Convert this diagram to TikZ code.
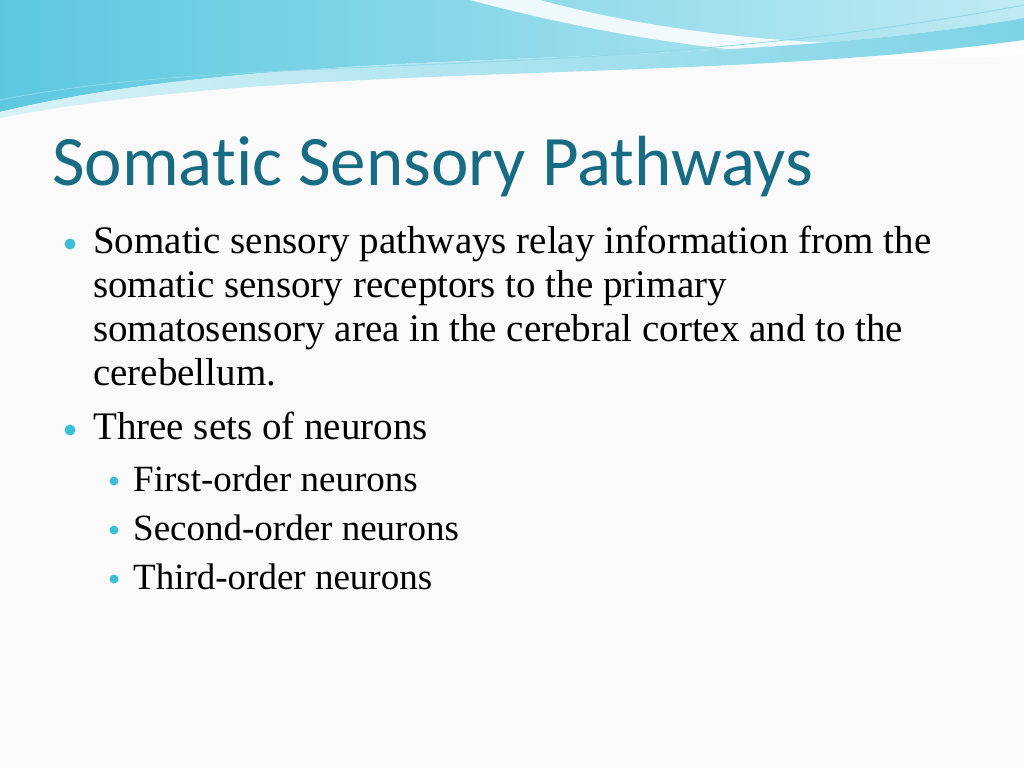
\documentclass[tikz,border=0pt]{standalone}
\usepackage{fontspec}
\setmainfont{Liberation Serif}
\newfontfamily\titlefont[Ligatures={NoCommon}]{Carlito}
\definecolor{ttl}{HTML}{176B82}
\definecolor{bul}{HTML}{3CBFD6}
\definecolor{wave1}{HTML}{5CC8E0}
\definecolor{wave2}{HTML}{BFEAF3}
\begin{document}
\begin{tikzpicture}[x=1pt,y=-1pt,
  body/.style={anchor=north west,align=left,font=\fontsize{39}{44}\selectfont,inner sep=0pt},
  sub/.style={anchor=north west,font=\fontsize{37}{40}\selectfont,inner sep=0pt},
  dot/.style={circle,fill=bul,inner sep=0pt}]
\useasboundingbox (0,0) rectangle (1024,768);
\fill[white!96!gray] (0,0) rectangle (1024,768);
% header waves
\shade[left color=wave1,right color=wave2] (0,0) -- (1024,0) -- (1024,18)
  .. controls (700,75) and (300,40) .. (0,112) -- cycle;
\fill[white,opacity=0.85] (470,0) .. controls (620,40) and (800,70) .. (1024,55) -- (1024,40)
  .. controls (820,55) and (650,30) .. (540,0) -- cycle;
\shade[left color=white!40!wave2,right color=wave1!80] (0,112) .. controls (300,40) and (700,75) .. (1024,18)
  -- (1024,40) .. controls (700,85) and (300,60) .. (0,118) -- cycle;
\draw[wave1!70,line width=0.8pt] (0,100) .. controls (250,50) and (600,85) .. (1024,5);
% title
\node[anchor=west,inner sep=0pt,text=ttl,font=\titlefont\fontsize{71}{80}\selectfont] (title) at (52,167) {Somatic Sensory Pathways};
% bullets
\node[dot,minimum size=11pt] (d1) at (70,244) {};
\node[body] (b1) at (93,226) {Somatic sensory pathways relay information from the\\somatic sensory receptors to the primary\\somatosensory area in the cerebral cortex and to the\\cerebellum.};
\node[dot,minimum size=11pt] (d2) at (70,430) {};
\node[body] (b2) at (93,412) {Three sets of neurons};
\node[dot,minimum size=9pt] (d3) at (114,481) {};
\node[sub] (s1) at (133,466) {First-order neurons};
\node[dot,minimum size=9pt] (d4) at (114,530) {};
\node[sub] (s2) at (133,515) {Second-order neurons};
\node[dot,minimum size=9pt] (d5) at (114,579) {};
\node[sub] (s3) at (133,564) {Third-order neurons};
\end{tikzpicture}
\end{document}
